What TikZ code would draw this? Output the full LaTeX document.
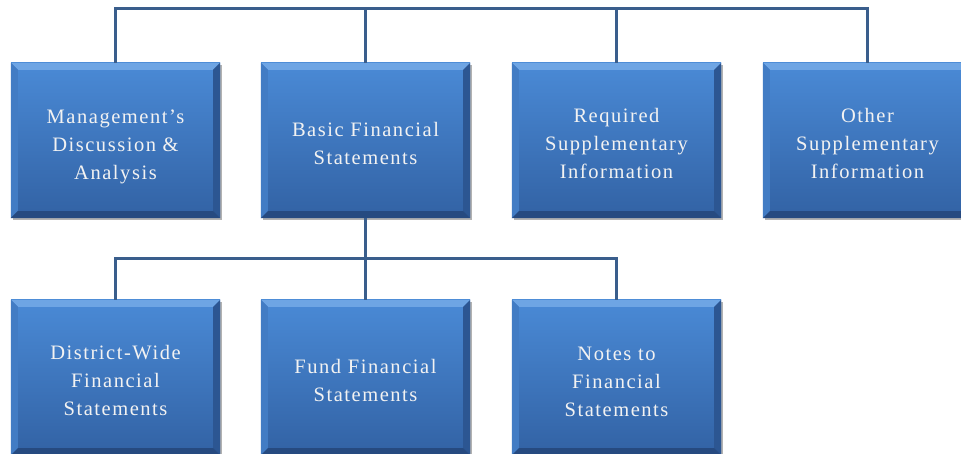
\documentclass[tikz,border=0pt]{standalone}
\usepackage{fontspec}
\setmainfont[LetterSpace=7.5]{Liberation Serif}
\usetikzlibrary{shadows}
\definecolor{btop}{RGB}{74,138,214}
\definecolor{bbot}{RGB}{50,98,164}
\definecolor{bvtop}{RGB}{110,165,228}
\definecolor{bvleft}{RGB}{66,124,196}
\definecolor{bvright}{RGB}{44,86,146}
\definecolor{bvbot}{RGB}{38,74,128}
\definecolor{lnc}{RGB}{58,94,140}
\definecolor{txt}{RGB}{242,242,242}
\tikzset{
  box/.style={minimum width=209pt, minimum height=155pt, inner sep=0pt,
    top color=btop, bottom color=bbot, draw=none,
    drop shadow={shadow xshift=1.5pt, shadow yshift=-2.5pt, opacity=0.3, fill=black}},
  lbl/.style={align=center, text=txt, font=\fontsize{20.5}{28}\selectfont},
  conn/.style={draw=lnc, line width=3pt},
}
\newcommand\bevel[1]{%
  \fill[bvtop] (#1.north west) -- (#1.north east) -- ([shift={(-7pt,-7pt)}]#1.north east) -- ([shift={(7pt,-7pt)}]#1.north west) -- cycle;
  \fill[bvleft] (#1.north west) -- ([shift={(7pt,-7pt)}]#1.north west) -- ([shift={(7pt,7pt)}]#1.south west) -- (#1.south west) -- cycle;
  \fill[bvright] (#1.north east) -- ([shift={(-7pt,-7pt)}]#1.north east) -- ([shift={(-7pt,7pt)}]#1.south east) -- (#1.south east) -- cycle;
  \fill[bvbot] (#1.south west) -- ([shift={(7pt,7pt)}]#1.south west) -- ([shift={(-7pt,7pt)}]#1.south east) -- (#1.south east) -- cycle;
}
\begin{document}
\begin{tikzpicture}[x=1pt,y=-1pt]
\useasboundingbox (0,0) rectangle (961,454);
\clip (0,0) rectangle (961,454);
\fill[white] (0,0) rectangle (961,454);
\coordinate (topbar) at (0,9);
\coordinate (midbar) at (0,259);
\node[box] (b1) at (115.5,140.5) {};
\node[box] (b2) at (365.5,140.5) {};
\node[box] (b3) at (616.5,140.5) {};
\node[box] (b4) at (867.5,140.5) {};
\node[box] (c1) at (115.5,377.5) {};
\node[box] (c2) at (365.5,377.5) {};
\node[box] (c3) at (616.5,377.5) {};
\foreach \n in {b1,b2,b3,b4,c1,c2,c3} {\bevel{\n}}
\node[lbl] (t1) at ([yshift=-6pt]b1) {Management’s\\Discussion \&\\Analysis};
\node[lbl] (t2) at ([yshift=-3pt]b2) {Basic Financial\\Statements};
\node[lbl] (t3) at ([yshift=-3pt]b3) {Required\\Supplementary\\Information};
\node[lbl] (t4) at ([yshift=-3pt]b4) {Other\\Supplementary\\Information};
\node[lbl] (t5) at ([yshift=-3pt]c1) {District-Wide\\Financial\\Statements};
\node[lbl] (t6) at ([yshift=-3pt]c2) {Fund Financial\\Statements};
\node[lbl] (t7) at ([yshift=-4pt]c3) {Notes to\\Financial\\Statements};
\draw[conn] (b1.north) -- (b1.north |- topbar) -| (b4.north);
\draw[conn] (b2.north) -- (b2.north |- topbar);
\draw[conn] (b3.north) -- (b3.north |- topbar);
\draw[conn] (b2.south) -- (b2.south |- midbar);
\draw[conn] (c1.north) -- (c1.north |- midbar) -| (c3.north);
\draw[conn] (c2.north) -- (c2.north |- midbar);
\end{tikzpicture}
\end{document}
